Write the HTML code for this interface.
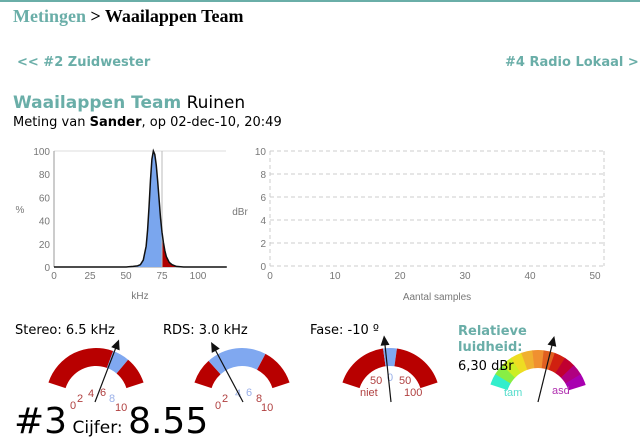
<!DOCTYPE html>
<html><head><meta charset="utf-8">
<style>
body{margin:0;width:640px;height:447px;background:#fff;position:relative;overflow:hidden;font-family:"DejaVu Sans","Liberation Sans",sans-serif;}
.abs{position:absolute;white-space:nowrap;}
.teal{color:#6aaea8;}
svg text{font-family:"Liberation Sans",sans-serif;}
</style></head>
<body>
<div class="abs" style="left:0;top:0;width:640px;height:2px;background:#6aaea8"></div>
<div class="abs" style="left:13px;top:6px;font-family:'Liberation Serif',serif;font-size:18px;font-weight:bold"><span class="teal">Metingen</span> &gt; Waailappen Team</div>
<div class="abs teal" style="left:17px;top:55px;font-size:13px;font-weight:bold">&lt;&lt; #2 Zuidwester</div>
<div class="abs teal" style="left:505px;top:55px;font-size:13px;font-weight:bold">#4 Radio Lokaal &gt;</div>
<div class="abs" style="left:13px;top:93px;font-size:17px"><span class="teal" style="font-weight:bold">Waailappen Team</span> Ruinen</div>
<div class="abs" style="left:13px;top:115px;font-size:13px">Meting van <b>Sander</b>, op 02-dec-10, 20:49</div>

<svg class="abs" style="left:0;top:0" width="640" height="447" id="svg">
<g id="left"></g>
<g id="right"></g>
<g id="gauges"></g>
</svg>

<div class="abs" style="left:15px;top:323px;font-size:13px">Stereo: 6.5 kHz</div>
<div class="abs" style="left:163px;top:323px;font-size:13px">RDS: 3.0 kHz</div>
<div class="abs" style="left:310px;top:323px;font-size:13px">Fase: -10 º</div>
<div class="abs teal" style="left:458px;top:324px;font-size:13px;font-weight:bold;line-height:16px">Relatieve<br>luidheid:</div>
<div class="abs" style="left:458px;top:359px;font-size:13px">6,30 dBr</div>
<div class="abs" style="left:14px;top:402px;font-size:36px;line-height:40px">#3<span style="font-size:17px"> Cijfer: </span>8.55</div>

<script>
const specX=[0,50,55,58,60,62,64,65,66,67,68,69,70,71,72,73,74,75,76,77,78,80,82,85,90,120];
const specY=[0,0,0.5,1,2,6,18,32,52,75,93,100,97,88,74,58,42,30,21,14,9,4,2,0.5,0,0];
const specXTicks=[0,25,50,75,100];
const specYTicks=[0,20,40,60,80,100];
const markerKHz=[75];
const dbrXTicks=[0,10,20,30,40,50];
const dbrYTicks=[0,2,4,6,8,10];
const gaugeLabels=["stereo","rds","fase","luidheid"];
const gaugeValues=[6.5,3.0,-10,6.3];

const NS="http://www.w3.org/2000/svg";
function mk(p,t,a,txt){const e=document.createElementNS(NS,t);for(const k in a)e.setAttribute(k,a[k]);if(txt!==undefined)e.textContent=txt;p.appendChild(e);return e;}

// left chart
const L=document.getElementById('left');
const lx=v=>54+v*1.44, ly=v=>267-v*1.16;
mk(L,'line',{x1:54,y1:151,x2:226,y2:151,stroke:'#ddd'});
mk(L,'line',{x1:54,y1:151,x2:54,y2:267,stroke:'#999'});
mk(L,'line',{x1:54,y1:267,x2:226,y2:267,stroke:'#999'});
specYTicks.forEach(t=>{const tt=mk(L,'text',{x:50,y:ly(t)+4,'text-anchor':'end','font-size':10,fill:'#777'},t);});
specXTicks.forEach(t=>{const tt=mk(L,'text',{x:lx(t),y:279,'text-anchor':'middle','font-size':10,fill:'#777'},t);});
mk(L,'text',{x:20,y:213,'text-anchor':'middle','font-size':10,fill:'#777'},'%');
mk(L,'text',{x:140,y:299,'text-anchor':'middle','font-size':10,fill:'#777'},'kHz');
const m=markerKHz[0];
let pb=`M${lx(specX[0])},${ly(0)}`, prPts='';
for(let i=0;i<specX.length;i++){ if(specX[i]<=m) pb+=`L${lx(specX[i])},${ly(specY[i])}`; else prPts+=`L${lx(specX[i])},${ly(specY[i])}`; }
const yi=specX.findIndex(v=>v>=m); const ym=specY[yi];
pb+=`L${lx(m)},${ly(ym)}L${lx(m)},${ly(0)}Z`;
const pr=`M${lx(m)},${ly(0)}L${lx(m)},${ly(ym)}`+prPts+`L${lx(specX[specX.length-1])},${ly(0)}Z`;
const fb=mk(L,'path',{d:pb,fill:'#7aa6ee'});
const fr=mk(L,'path',{d:pr,fill:'#b00000'});
mk(L,'line',{x1:lx(m),y1:151,x2:lx(m),y2:267,stroke:'#bbb'});
let pl='';specX.forEach((v,i)=>pl+=(i?'L':'M')+lx(v)+','+ly(specY[i]));
const ln=mk(L,'path',{d:pl,fill:'none',stroke:'#111','stroke-width':1.5});

// right chart
const R=document.getElementById('right');
const rx=v=>270+v*6.5, ry=v=>266-v*11.5;
dbrYTicks.forEach(t=>{mk(R,'line',{x1:270,y1:ry(t),x2:604,y2:ry(t),stroke:'#ccc','stroke-dasharray':'4,3'});
 const tt=mk(R,'text',{x:266,y:ry(t)+4,'text-anchor':'end','font-size':10,fill:'#777'},t);});
mk(R,'line',{x1:270,y1:151,x2:270,y2:266,stroke:'#ccc','stroke-dasharray':'4,3'});
mk(R,'line',{x1:604,y1:151,x2:604,y2:266,stroke:'#ccc','stroke-dasharray':'4,3'});
dbrXTicks.forEach(t=>{const tt=mk(R,'text',{x:rx(t),y:279,'text-anchor':'middle','font-size':10,fill:'#777'},t);});
mk(R,'text',{x:240,y:215,'text-anchor':'middle','font-size':10,fill:'#777'},'dBr');
mk(R,'text',{x:437,y:300,'text-anchor':'middle','font-size':10,fill:'#777'},'Aantal samples');

// gauges
const G=document.getElementById('gauges');
function arc(cx,cy,a0,a1,r0,r1,fill){
 const p=(a,r)=>[cx+r*Math.sin(a*Math.PI/180),cy-r*Math.cos(a*Math.PI/180)];
 const [x0,y0]=p(a0,r1),[x1,y1]=p(a1,r1),[x2,y2]=p(a1,r0),[x3,y3]=p(a0,r0);
 return mk(G,'path',{d:`M${x0},${y0}A${r1},${r1} 0 0 1 ${x1},${y1}L${x2},${y2}A${r0},${r0} 0 0 0 ${x3},${y3}Z`,fill});
}
function needle(bx,by,ang,len){
 const a=ang*Math.PI/180;const ux=Math.sin(a),uy=-Math.cos(a);const tx=bx+len*ux,ty=by+len*uy;
 const ln=mk(G,'line',{x1:bx,y1:by,x2:tx-ux*4,y2:ty-uy*4,stroke:'#111','stroke-width':1.2});
 
 
 const px=-uy,py=ux;
 mk(G,'path',{d:`M${tx},${ty}L${tx-ux*10+px*4.5},${ty-uy*10+py*4.5}L${tx-ux*10-px*4.5},${ty-uy*10-py*4.5}Z`,fill:'#111'});
}
const red='#b80000',blue='#80a8f0',txt='#b04040';
// stereo
let cx=96,cy=398;
arc(cx,cy,-72,20,32,50,red);arc(cx,cy,20,40,32,50,blue);arc(cx,cy,40,72,32,50,red);
[['0',-26,409],['2',-19,402],['4',-8,397],['6',4,396]].forEach(([t,dx,y])=>mk(G,'text',{x:cx+dx,y,'font-size':11,fill:txt},t));
mk(G,'text',{x:cx+13,y:402,'font-size':11,fill:'#9ab0e8'},'8');mk(G,'text',{x:cx+19,y:411,'font-size':11,fill:txt},'10');
needle(95,402,(gaugeValues[0]-5)*14,67);
// rds
cx=242;
arc(cx,cy,-72,-42,32,50,red);arc(cx,cy,-42,28,32,50,blue);arc(cx,cy,28,72,32,50,red);
[['0',-27,409,txt],['2',-20,402,txt],['4',-7,397,'#9ab0e8'],['6',4,396,'#9ab0e8'],['8',14,402,txt],['10',19,411,txt]].forEach(([t,dx,y,c])=>mk(G,'text',{x:cx+dx,y,'font-size':11,fill:c},t));
needle(243,402,(gaugeValues[1]-5)*14,68);
// fase
cx=390;
arc(cx,cy,-72,-8,32,50,red);arc(cx,cy,-8,8,32,50,blue);arc(cx,cy,8,72,32,50,red);
mk(G,'text',{x:cx-20,y:384,'font-size':11,fill:txt},'50');mk(G,'text',{x:cx-3,y:381,'font-size':11,fill:'#9ab0e8'},'0');mk(G,'text',{x:cx+9,y:384,'font-size':11,fill:txt},'50');
mk(G,'text',{x:cx-30,y:396,'font-size':11,fill:txt},'niet');mk(G,'text',{x:cx+14,y:396,'font-size':11,fill:txt},'100');
needle(391,402,gaugeValues[2]*0.6,67);
// luidheid
cx=538;cy=400;
const cols=['#33eecc','#88ee44','#ccee22','#eedd22','#f0b030','#f09030','#e06020','#d02010','#c00030','#b00080','#a800b0'];
cols.forEach((c,i)=>arc(cx,cy,-72+i*144/11,-72+(i+1)*144/11+0.5,32,50,c));
mk(G,'text',{x:cx-34,y:396,'font-size':11,fill:'#55ddcc'},'tam');mk(G,'text',{x:cx+14,y:394,'font-size':11,fill:'#b030b0'},'asd');
needle(538,402,gaugeValues[3]*2.2,68);
</script>
</body></html>
